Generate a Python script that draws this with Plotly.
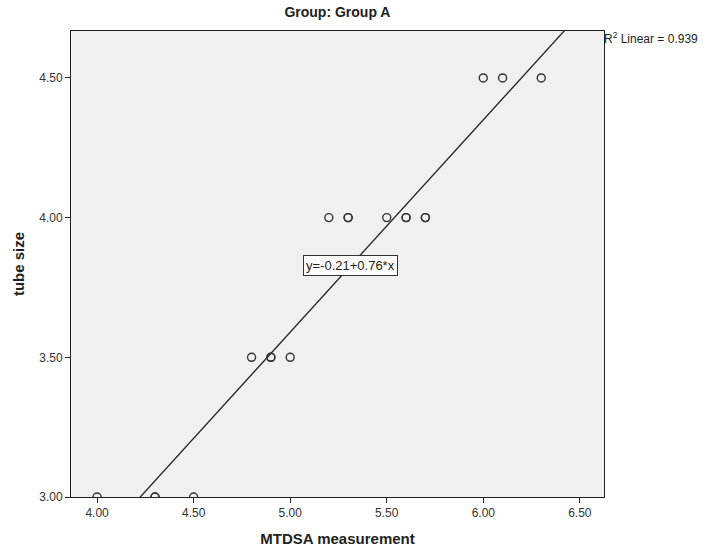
import numpy as np
import plotly.graph_objects as go

# Data (duplicates = overlapping cases)
mtdsa = [4.0, 4.3, 4.3, 4.5, 4.8, 4.9, 4.9, 5.0, 5.2, 5.3, 5.3, 5.5, 5.6, 5.6, 5.7, 5.7, 6.0, 6.1, 6.3]
tube = [3.0, 3.0, 3.0, 3.0, 3.5, 3.5, 3.5, 3.5, 4.0, 4.0, 4.0, 4.0, 4.0, 4.0, 4.0, 4.0, 4.5, 4.5, 4.5]
intercept = -0.21
slope = 0.76
r2 = 0.939
x_ticks = [4.0, 4.5, 5.0, 5.5, 6.0, 6.5]
y_ticks = [3.0, 3.5, 4.0, 4.5]

x_range = [3.865, 6.625]
y_range = [3.0, 4.668]

fig = go.Figure()

line_x = np.array(x_range)
line_y = intercept + slope * line_x
fig.add_trace(go.Scatter(x=line_x, y=line_y, mode="lines",
                         line=dict(color="#222222", width=1.3), hoverinfo="skip"))

fig.add_trace(go.Scatter(x=mtdsa, y=tube, mode="markers",
                         marker=dict(symbol="circle-open", size=8,
                                     color="#333333", line=dict(width=1.4, color="#333333"))))

narrow = "Liberation Sans Narrow, Arial Narrow, Liberation Sans, sans-serif"
tickfont = dict(family=narrow, size=12, color="#333333")

fig.update_xaxes(range=x_range, tickvals=x_ticks, ticktext=[f"{v:.2f}" for v in x_ticks],
                 showgrid=False, zeroline=False, showline=True, linecolor="#222222", linewidth=1,
                 mirror=True, ticks="outside", ticklen=5, tickcolor="#222222",
                 tickfont=tickfont, automargin=False,
                 title=dict(text="<b>MTDSA measurement</b>", standoff=14,
                            font=dict(family="Liberation Sans, Arial, sans-serif", size=15, color="#222222")))
fig.update_yaxes(range=y_range, tickvals=y_ticks, ticktext=[f"{v:.2f}" for v in y_ticks],
                 showgrid=False, zeroline=False, showline=True, linecolor="#222222", linewidth=1,
                 mirror=True, ticks="outside", ticklen=5, tickcolor="#222222",
                 tickfont=tickfont, automargin=False,
                 title=dict(text="<b>tube size</b>", standoff=10,
                            font=dict(family="Liberation Sans, Arial, sans-serif", size=15, color="#222222")))

fig.add_annotation(x=5.31, y=3.828, xref="x", yref="y", text=f"y={intercept:.2f}+{slope:.2f}*x",
                   showarrow=False, bgcolor="white", bordercolor="#333333", borderwidth=1, borderpad=2,
                   font=dict(family=narrow, size=13, color="#222222"))

fig.add_annotation(x=1.0, y=1.0, xref="paper", yref="paper", xanchor="left", yanchor="top",
                   text=f"R<sup>2</sup> Linear = {r2:.3f}", showarrow=False, xshift=-2, yshift=3,
                   font=dict(family=narrow, size=12, color="#222222"))

fig.update_layout(
    width=703, height=547,
    margin=dict(l=71, r=99, t=31, b=50, autoexpand=False),
    plot_bgcolor="#F0F0F0", paper_bgcolor="white",
    showlegend=False,
    title=dict(text="<b>Group: Group A</b>", x=0.48, xanchor="center", y=0.978, yanchor="middle",
               font=dict(family=narrow, size=14, color="#222222")),
)

fig.write_html("out.html", config={"displayModeBar": False},
               post_script="document.body.style.margin='0';document.body.style.overflow='hidden';")
